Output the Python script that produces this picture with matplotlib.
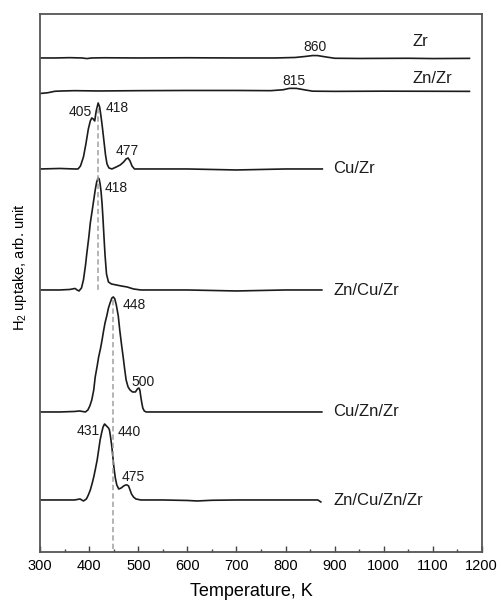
import matplotlib
matplotlib.use("Agg")
import matplotlib.pyplot as plt
from matplotlib.ticker import MultipleLocator

plt.rcParams['font.family'] = ['Liberation Sans', 'DejaVu Sans']
plt.rcParams['mathtext.fontset'] = 'custom'
plt.rcParams['mathtext.rm'] = 'Liberation Sans'
plt.rcParams['mathtext.it'] = 'Liberation Sans:italic'

# Samples, top to bottom, and the vertical offset of each TPR trace
samples = ["Zr", "Zn/Zr", "Cu/Zr", "Zn/Cu/Zr", "Cu/Zn/Zr", "Zn/Cu/Zn/Zr"]
offsets = [494, 461, 383, 262, 140, 52]

# H2 uptake traces (temperature in K, signal in arb. units above baseline)
t_zr = [300, 330, 360, 385, 395, 405, 430, 500, 600, 700, 780, 820, 840, 855,
        865, 880, 900, 950, 1050, 1100, 1175]
h_zr = [0, 0, 0.3, 0, -0.6, 0, 0.2, 0, 0.2, 0, 0, 0.5, 1.5, 2.4,
        2.4, 1.2, -0.3, -0.5, -0.3, -0.6, -0.4]

t_znzr = [300, 315, 330, 345, 370, 420, 500, 600, 700, 770, 795, 808, 822,
          838, 855, 900, 1000, 1100, 1175]
h_znzr = [-2.5, -1.8, -0.3, 0, 0.3, 0, 0.3, 0.5, 0.5, 0.3, 1.2, 2.6, 2.6,
          1.2, -0.2, -0.4, -0.2, -0.3, -0.4]

t_cuzr = [300, 340, 370, 377, 382, 388, 393, 398, 402, 405, 408, 411, 414, 418,
          421, 424, 427, 430, 433, 436, 440, 446, 455, 463, 470, 475, 479, 483,
          487, 492, 520, 600, 700, 800, 875]
h_cuzr = [0, 0.5, 0, 0, 3, 12, 25, 40, 48, 51, 50, 48, 58, 66,
          62, 52, 40, 27, 14, 5, 1, 0, 2, 4, 7, 10, 11, 8,
          3, 0, 0, 0, -1, 0, 0]

t_zncuzr = [300, 340, 360, 371, 375, 379, 384, 388, 392, 395, 399, 402, 406,
            409, 412, 415, 418, 420, 422, 424, 426, 428, 430, 432, 435, 439,
            445, 455, 465, 477, 490, 505, 600, 700, 800, 874]
h_zncuzr = [0, 0, 0.5, 1.5, 0, -1, 2, 10, 24, 37, 53, 67, 80,
            90, 100, 108, 112, 111, 106, 98, 86, 70, 52, 35, 16, 8,
            6, 5, 4, 3, 1, 0, 0, -1, 0, 0]

t_cuznzr = [300, 340, 370, 380, 392, 397, 401, 405, 409, 412, 416, 419, 423,
            426, 429, 432, 436, 439, 443, 446, 449, 452, 455, 459, 462, 466,
            469, 472, 475, 479, 483, 488, 494, 498, 501, 503, 505, 507, 509,
            512, 516, 540, 600, 700, 800, 874]
h_cuznzr = [0, 0, 0.5, 1, 0, 2, 6, 12, 22, 35, 46, 55, 64,
            72, 81, 89, 97, 104, 110, 114, 115, 113, 107, 96, 82, 66,
            55, 43, 32, 25, 22, 20, 20, 23, 24, 22, 15, 9, 4,
            1, 0, 0, 0, 0, 0, 0]

t_zncuznzr = [300, 340, 370, 381, 388, 394, 398, 402, 406, 409, 412, 416, 419,
              422, 425, 428, 431, 433, 435, 437, 439, 441, 443, 446, 448, 450,
              453, 456, 460, 465, 470, 474, 477, 480, 483, 486, 490, 495, 505,
              550, 600, 620, 650, 700, 800, 866, 872]
h_zncuznzr = [0, 0, 0, 1, -1, 1, 5, 10, 17, 23, 30, 40, 50,
              60, 67, 73, 76, 75, 74, 73, 72, 70, 64, 53, 43, 33,
              22, 15, 11, 12, 14, 15, 15, 14, 10, 6, 3, 1, 0,
              0, -0.5, -1, -0.3, 0, 0, 0, -2]

temps = [t_zr, t_znzr, t_cuzr, t_zncuzr, t_cuznzr, t_zncuznzr]
signals = [h_zr, h_znzr, h_cuzr, h_zncuzr, h_cuznzr, h_zncuznzr]

# Peak maxima annotations: (text, x, y)
peak_labels = [("860", 861, 505), ("815", 818, 471),
               ("405", 382, 440), ("418", 457, 444), ("477", 477, 401),
               ("418", 455, 364),
               ("448", 492, 247), ("500", 510, 170),
               ("431", 398, 121), ("440", 481, 120), ("475", 490, 75)]

# Guide lines through the main Cu reduction peaks: (T, y_from, y_to)
guides = [(418, 444, 262), (448, 252, 0)]

# Sample name positions: (x, y)
name_pos = [(1058, 510), (1058, 473), (897, 383), (897, 261), (897, 140), (897, 51)]

fig = plt.figure(figsize=(5.01, 6.02), dpi=100)
ax = fig.add_axes([0.0804, 0.0831, 0.8811, 0.8937])

for t, h, off in zip(temps, signals, offsets):
    ax.plot(t, [off + v for v in h], color="#1c1c1c", lw=1.2,
            solid_joinstyle="round")

for x, y0, y1 in guides:
    ax.plot([x, x], [y0, y1], color="#a0a0a0", lw=1.1, ls=(0, (3.5, 2)))

for txt, x, y in peak_labels:
    ax.text(x, y, txt, ha="center", va="center", fontsize=10, color="#1c1c1c")

for name, (x, y) in zip(samples, name_pos):
    ax.text(x, y, name, ha="left", va="center", fontsize=12, color="#1c1c1c")

ax.set_xlim(300, 1200)
ax.set_ylim(0, 538)
ax.xaxis.set_major_locator(MultipleLocator(100))
ax.xaxis.set_minor_locator(MultipleLocator(50))
ax.set_yticks([])
ax.tick_params(axis="x", which="major", direction="in", length=4.3, width=1.0,
               color="#444444", labelsize=10.5, pad=5, top=False)
ax.tick_params(axis="x", which="minor", direction="in", length=2.4, width=1.0,
               color="#444444", top=False)
for sp in ax.spines.values():
    sp.set_color("#555555")
    sp.set_linewidth(1.3)

fig.text(251.5 / 501, 1 - 592 / 602, "Temperature, K", ha="center", va="center",
         fontsize=13)
fig.text(20 / 501, 1 - 267 / 602, r"$\mathregular{H_2}$ uptake, arb. unit",
         ha="center", va="center", rotation=90, fontsize=10.5)

fig.savefig("out.png", dpi=100)
